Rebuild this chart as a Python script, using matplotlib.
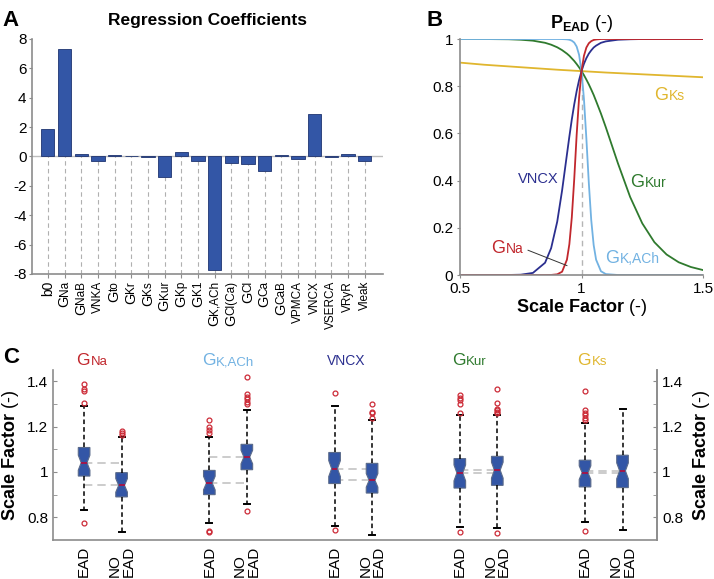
import numpy as np
import matplotlib
matplotlib.use('Agg')
import matplotlib.pyplot as plt
from matplotlib.transforms import offset_copy

plt.rcParams['font.family'] = ['Liberation Sans', 'DejaVu Sans']
plt.rcParams['mathtext.fontset'] = 'custom'
plt.rcParams['mathtext.rm'] = 'Liberation Sans'
plt.rcParams['mathtext.bf'] = 'Liberation Sans:bold'
plt.rcParams['axes.unicode_minus'] = False

# Panel A: regression coefficients
coef_names = ['b0', 'GNa', 'GNaB', 'VNKA', 'Gto', 'GKr', 'GKs', 'GKur', 'GKp', 'GK1',
              'GK,ACh', 'GCl(Ca)', 'GCl', 'GCa', 'GCaB', 'VPMCA', 'VNCX', 'VSERCA',
              'VRyR', 'Vleak']
coef_values = [1.85, 7.3, 0.2, -0.3, 0.1, 0.03, -0.05, -1.4, 0.32, -0.3,
               -7.75, -0.42, -0.5, -0.98, 0.12, -0.2, 2.92, -0.03, 0.2, -0.28]
coef_yticks = [-8, -6, -4, -2, 0, 2, 4, 6, 8]

# Panel B: P_EAD vs scale factor
scale = [0.5, 0.6, 0.7, 0.75, 0.8, 0.85, 0.875, 0.9, 0.92, 0.94, 0.95, 0.96, 0.97,
         0.98, 0.99, 1.0, 1.01, 1.02, 1.03, 1.04, 1.05, 1.06, 1.08, 1.1, 1.15, 1.2,
         1.25, 1.3, 1.35, 1.4, 1.45, 1.5]
p_gna = [0, 0, 0, 0, 0, 0, 0.0004, 0.003, 0.014, 0.065, 0.131, 0.244, 0.406,
         0.594, 0.752, 0.864, 0.929, 0.964, 0.982, 0.991, 0.996, 0.998, 1.0, 1.0,
         1.0, 1.0, 1.0, 1.0, 1.0, 1.0, 1.0, 1.0]
p_vncx = [0, 0, 0.0002, 0.0014, 0.009, 0.052, 0.114, 0.226, 0.358, 0.511, 0.587,
          0.659, 0.723, 0.779, 0.826, 0.864, 0.895, 0.919, 0.938, 0.952, 0.964,
          0.972, 0.984, 0.99, 0.997, 0.999, 1.0, 1.0, 1.0, 1.0, 1.0, 1.0]
p_gkach = [1.0, 1.0, 1.0, 1.0, 1.0, 1.0, 1.0, 1.0, 0.9998, 0.9987, 0.997, 0.993,
           0.985, 0.968, 0.933, 0.864, 0.746, 0.578, 0.391, 0.233, 0.127, 0.065,
           0.016, 0.004, 0.0001, 0, 0, 0, 0, 0, 0, 0]
p_gkur = [1.0, 0.9999, 0.999, 0.997, 0.993, 0.984, 0.976, 0.965, 0.953, 0.938,
          0.929, 0.918, 0.907, 0.894, 0.88, 0.864, 0.847, 0.828, 0.808, 0.786,
          0.763, 0.737, 0.684, 0.626, 0.473, 0.331, 0.219, 0.139, 0.087, 0.054,
          0.034, 0.021]
scale_gks = [0.5, 0.6, 0.7, 0.8, 0.9, 1.0, 1.1, 1.2, 1.3, 1.4, 1.5]
p_gks = [0.9, 0.891, 0.884, 0.877, 0.87, 0.864, 0.858, 0.853, 0.848, 0.843, 0.838]
b_xticks = [0.5, 1, 1.5]
b_xticklabels = ['0.5', '1', '1.5']
b_yticks = [0, 0.2, 0.4, 0.6, 0.8, 1]
b_yticklabels = ['0', '0.2', '0.4', '0.6', '0.8', '1']

# Panel C: boxplots, order EAD / NO EAD per group
group_names = ['GNa', 'GK,ACh', 'VNCX', 'GKur', 'GKs']
box_labels = ['EAD', 'NO\nEAD'] * 5
box_med = [1.041, 0.941, 0.951, 1.066, 1.015, 0.963, 0.996, 1.008, 0.997, 1.005]
box_q1 = [0.982, 0.89, 0.90, 1.01, 0.949, 0.907, 0.929, 0.941, 0.934, 0.931]
box_q3 = [1.108, 0.997, 1.007, 1.122, 1.086, 1.038, 1.059, 1.069, 1.052, 1.074]
box_whislo = [0.831, 0.735, 0.775, 0.86, 0.76, 0.72, 0.757, 0.753, 0.779, 0.746]
box_whishi = [1.29, 1.155, 1.155, 1.275, 1.29, 1.231, 1.25, 1.25, 1.214, 1.28]
box_notch = [0.033, 0.03, 0.03, 0.03, 0.035, 0.03, 0.035, 0.035, 0.03, 0.035]
box_fliers = [
    [1.386, 1.368, 1.358, 1.306, 0.777],
    [1.181, 1.172, 1.162],
    [1.228, 1.199, 1.184, 1.174, 0.735, 0.74],
    [1.419, 1.343, 1.331, 1.32, 1.309, 1.299, 0.826],
    [1.35, 0.743],
    [1.298, 1.265, 1.258, 1.236],
    [1.339, 1.327, 1.317, 1.302, 1.258, 0.735],
    [1.365, 1.305, 1.28, 1.272, 1.265, 1.258, 0.731],
    [1.358, 1.272, 1.26, 1.25, 1.24, 1.228, 0.74],
    [],
]
c_yticks = [0.8, 1.0, 1.2, 1.4]
c_yticklabels = ['0.8', '1', '1.2', '1.4']

bar_blue = '#3356a6'
red = '#c1272d'
navy = '#2b2f8f'
light_blue = '#72b2e2'
green = '#2f7a2e'
gold = '#e0b62e'
group_colors = [red, light_blue, navy, green, gold]
spine_gray = '#8c8c8c'

fig = plt.figure(figsize=(7.14, 5.79), dpi=100)
renderer = fig.canvas.get_renderer()


def mixed_text(ax, x, y, big, small, color, big_size, small_size, **kw):
    # big leading letter, then smaller text sitting on the same baseline
    t = ax.text(x, y, big, color=color, fontsize=big_size, ha='left', va='baseline', **kw)
    w = t.get_window_extent(renderer).width * 72 / fig.dpi
    tr = offset_copy(ax.transData, fig=fig, x=w + 0.3, y=0, units='points')
    ax.text(x, y, small, color=color, fontsize=small_size, ha='left', va='baseline',
            transform=tr, **kw)
    return t


# ---------------- A ----------------
axA = fig.add_axes([0.0448, 0.5268, 0.4916, 0.4059])
xs = np.arange(len(coef_values))
axA.axhline(0, color='#bdbdbd', lw=1.0, zorder=1)
for x, v in zip(xs, coef_values):
    axA.vlines(x, -8, min(0, v), colors='#b0b0b0', linestyles=(0, (4, 3)), lw=0.8, zorder=0)
axA.bar(xs, coef_values, width=0.8, color=bar_blue, edgecolor='#1f3470', lw=0.6, zorder=2)
axA.set_xlim(-0.95, 20.1)
axA.set_ylim(-8, 8)
axA.set_yticks(coef_yticks)
axA.set_yticklabels([str(t) for t in coef_yticks], fontsize=11)
axA.set_xticks(xs)
axA.set_xticklabels([])
axA.tick_params(axis='x', length=3, color=spine_gray)
axA.tick_params(axis='y', length=2, color=spine_gray, pad=2)
for s in ['top', 'right']:
    axA.spines[s].set_visible(False)
for s in ['left', 'bottom']:
    axA.spines[s].set_color(spine_gray)
    axA.spines[s].set_linewidth(1.2)
axA.set_title('Regression Coefficients', fontsize=12.5, fontweight='bold', pad=10)

for x, name in zip(xs, coef_names):
    if name.startswith('G'):
        big, small = 'G', name[1:]
    else:
        big, small = '', name
    size = 10 if name == 'b0' else 8.5
    t = axA.annotate(small, xy=(x, 0), xycoords=('data', 'axes fraction'),
                     xytext=(0, -5), textcoords='offset points', rotation=90,
                     ha='center', va='top', fontsize=size)
    if big:
        axA.annotate(big, xy=(0.5, 0), xycoords=t, rotation=90, ha='center',
                     va='top', fontsize=10.5)

# ---------------- B ----------------
axB = fig.add_axes([0.6443, 0.525, 0.3403, 0.4076])
axB.vlines(1, 0, 0.864, colors='#b5b5b5', linestyles=(0, (4, 3)), lw=1.0, zorder=0)
axB.plot(scale_gks, p_gks, color=gold, lw=1.3)
axB.plot(scale, p_gkur, color=green, lw=1.3)
axB.plot(scale, p_gkach, color=light_blue, lw=1.3)
axB.plot(scale, p_vncx, color=navy, lw=1.3)
axB.plot(scale, p_gna, color=red, lw=1.3)
axB.set_xlim(0.5, 1.5)
axB.set_ylim(0, 1)
axB.set_xticks(b_xticks)
axB.set_xticklabels(b_xticklabels, fontsize=11)
axB.set_yticks(b_yticks)
axB.set_yticklabels(b_yticklabels, fontsize=11)
axB.tick_params(length=2, color=spine_gray, pad=3)
for s in ['top', 'right']:
    axB.spines[s].set_visible(False)
for s in ['left', 'bottom']:
    axB.spines[s].set_color(spine_gray)
    axB.spines[s].set_linewidth(1.2)
axB.set_title(r'$\mathbf{P_{EAD}}$ (-)', fontsize=13, pad=8)
axB.set_xlabel(r'$\mathbf{Scale\ Factor}$ (-)', fontsize=13, labelpad=1)
mixed_text(axB, 1.30, 0.74, 'G', 'Ks', gold, 13, 10)
mixed_text(axB, 1.20, 0.375, 'G', 'Kur', green, 13, 10)
mixed_text(axB, 1.097, 0.05, 'G', 'K,ACh', light_blue, 13, 10)
mixed_text(axB, 0.63, 0.093, 'G', 'Na', red, 13, 10)
axB.text(0.74, 0.39, 'VNCX', color=navy, fontsize=10.5, va='baseline')
axB.plot([0.78, 0.94], [0.105, 0.04], color='#333333', lw=0.7)

# ---------------- C ----------------
axC = fig.add_axes([0.0742, 0.0674, 0.846, 0.2936])
group_step = 3.34
positions = []
for g in range(len(group_names)):
    positions += [1 + g * group_step, 2 + g * group_step]

# dashed lines joining medians of each pair
for g in range(len(group_names)):
    p0, p1 = positions[2 * g], positions[2 * g + 1]
    for m in (box_med[2 * g], box_med[2 * g + 1]):
        axC.plot([p0, p1], [m, m], color='#c4c4c4', ls=(0, (5, 3)), lw=1.2, zorder=0)

stats = []
for i in range(len(box_med)):
    stats.append(dict(med=box_med[i], q1=box_q1[i], q3=box_q3[i],
                      whislo=box_whislo[i], whishi=box_whishi[i],
                      cilo=box_med[i] - box_notch[i], cihi=box_med[i] + box_notch[i],
                      fliers=box_fliers[i]))
axC.bxp(stats, positions=positions, widths=0.31, capwidths=0.16, shownotches=True,
        patch_artist=True,
        boxprops=dict(facecolor=bar_blue, edgecolor='#5a6a8a', lw=0.8),
        medianprops=dict(color='#a3174a', lw=1.4),
        whiskerprops=dict(color='black', ls=(0, (3, 2)), lw=1.1),
        capprops=dict(color='black', lw=1.4),
        flierprops=dict(marker='o', markersize=3.5, markerfacecolor='none',
                        markeredgecolor='#cc2a36', markeredgewidth=0.9))
axC.set_xlim(0.17, 16.28)
axC.set_ylim(0.7, 1.45)
axC.set_xticks(positions)
axC.set_xticklabels(box_labels, rotation=90, fontsize=11, linespacing=0.95,
                    multialignment='left')
axC.tick_params(axis='x', length=0, pad=4)
axC.set_yticks(c_yticks)
axC.set_yticklabels(c_yticklabels, fontsize=11)
axC.set_yticks([0.9, 1.1, 1.3], minor=True)
axC.tick_params(axis='y', which='both', direction='in', length=3, color=spine_gray)
axC.spines['top'].set_visible(False)
for s in ['left', 'bottom', 'right']:
    axC.spines[s].set_color(spine_gray)
    axC.spines[s].set_linewidth(1.2)
axC.set_ylabel(r'$\mathbf{Scale\ Factor}$ (-)', fontsize=13, labelpad=4)

axC2 = axC.twinx()
axC2.set_ylim(0.7, 1.45)
axC2.set_yticks(c_yticks)
axC2.set_yticklabels(c_yticklabels, fontsize=11)
axC2.set_yticks([0.9, 1.1, 1.3], minor=True)
axC2.tick_params(axis='y', which='both', direction='in', length=3, color=spine_gray)
for s in ['top', 'left', 'bottom']:
    axC2.spines[s].set_visible(False)
axC2.spines['right'].set_color(spine_gray)
axC2.spines['right'].set_linewidth(1.2)
axC2.set_ylabel(r'$\mathbf{Scale\ Factor}$ (-)', fontsize=13, labelpad=6)

for g, (name, col) in enumerate(zip(group_names, group_colors)):
    x0 = positions[2 * g] - 0.2
    if name.startswith('G'):
        mixed_text(axC, x0, 1.47, 'G', name[1:], col, 12.5, 9.5, clip_on=False)
    else:
        axC.text(x0, 1.47, name, color=col, fontsize=10, va='baseline', clip_on=False)

# panel letters
fig.text(0.004, 0.965, 'A', fontsize=16, fontweight='bold', va='center')
fig.text(0.598, 0.965, 'B', fontsize=16, fontweight='bold', va='center')
fig.text(0.004, 0.382, 'C', fontsize=16, fontweight='bold', va='center')

fig.savefig('out.png', dpi=100)
